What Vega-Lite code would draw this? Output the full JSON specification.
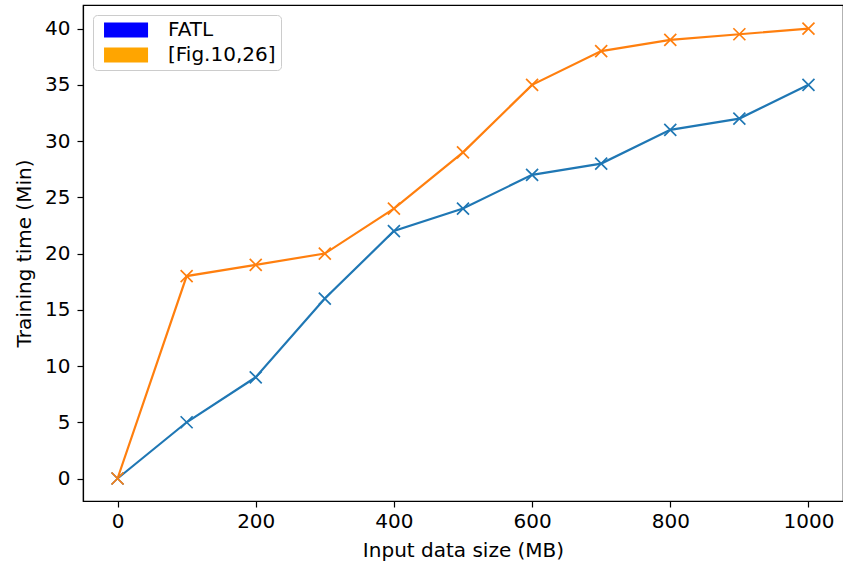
{
  "$schema": "https://vega.github.io/schema/vega-lite/v6.json",
  "width": 760,
  "height": 496,
  "autosize": {"type": "none"},
  "padding": {"left": 83, "top": 5, "right": 0, "bottom": 61},
  "background": "white",
  "config": {
    "font": "DejaVu Sans",
    "view": {"stroke": "#000", "strokeWidth": 1.2},
    "axis": {"grid": false, "domainColor": "#000", "tickColor": "#000", "labelColor": "#000", "titleColor": "#000", "labelFont": "DejaVu Sans", "titleFont": "DejaVu Sans", "labelFontSize": 20, "titleFontSize": 20, "titleFontWeight": "normal", "tickSize": 6, "tickWidth": 1.2, "domainWidth": 1.2}
  },
  "data": {"values": [
    {"size": 0, "time": 0, "series": "FATL"},
    {"size": 100, "time": 5, "series": "FATL"},
    {"size": 200, "time": 9, "series": "FATL"},
    {"size": 300, "time": 16, "series": "FATL"},
    {"size": 400, "time": 22, "series": "FATL"},
    {"size": 500, "time": 24, "series": "FATL"},
    {"size": 600, "time": 27, "series": "FATL"},
    {"size": 700, "time": 28, "series": "FATL"},
    {"size": 800, "time": 31, "series": "FATL"},
    {"size": 900, "time": 32, "series": "FATL"},
    {"size": 1000, "time": 35, "series": "FATL"},
    {"size": 0, "time": 0, "series": "[Fig.10,26]"},
    {"size": 100, "time": 18, "series": "[Fig.10,26]"},
    {"size": 200, "time": 19, "series": "[Fig.10,26]"},
    {"size": 300, "time": 20, "series": "[Fig.10,26]"},
    {"size": 400, "time": 24, "series": "[Fig.10,26]"},
    {"size": 500, "time": 29, "series": "[Fig.10,26]"},
    {"size": 600, "time": 35, "series": "[Fig.10,26]"},
    {"size": 700, "time": 38, "series": "[Fig.10,26]"},
    {"size": 800, "time": 39, "series": "[Fig.10,26]"},
    {"size": 900, "time": 39.5, "series": "[Fig.10,26]"},
    {"size": 1000, "time": 40, "series": "[Fig.10,26]"}
  ]},
  "encoding": {
    "x": {"field": "size", "type": "quantitative", "scale": {"domain": [-50, 1050], "nice": false, "zero": false}, "axis": {"values": [0, 200, 400, 600, 800, 1000], "format": "d", "title": "Input data size (MB)", "labelPadding": 4, "titlePadding": 9}},
    "y": {"field": "time", "type": "quantitative", "scale": {"domain": [-2, 42.1], "nice": false, "zero": false}, "axis": {"values": [0, 5, 10, 15, 20, 25, 30, 35, 40], "title": "Training time (Min)", "labelPadding": 7, "titlePadding": 10}},
    "stroke": {"field": "series", "type": "nominal", "scale": {"domain": ["FATL", "[Fig.10,26]"], "range": ["#1f77b4", "#ff7f0e"]},
      "legend": {"title": null, "orient": "none", "legendX": 10, "legendY": 10, "symbolType": "M-0.53,-1H5.34V1H-0.53Z", "symbolSize": 225, "symbolStrokeWidth": 0, "labelFontSize": 20, "labelFont": "DejaVu Sans", "labelColor": "#000", "labelOffset": 50, "rowPadding": 5, "padding": 5, "strokeColor": "#cccccc", "fillColor": "white", "cornerRadius": 4,
        "encode": {"symbols": {"update": {"fill": {"signal": "datum.value === 'FATL' ? '#0000ff' : '#ffa500'"}, "fillOpacity": {"value": 1}, "opacity": {"value": 1}, "strokeWidth": {"value": 0}}}}}}
  },
  "layer": [
    {"mark": {"type": "line", "strokeWidth": 2.2}},
    {"mark": {"type": "point", "shape": "M-1,-1L1,1M1,-1L-1,1", "size": 144, "strokeWidth": 1.7, "filled": false, "opacity": 1}}
  ]
}
